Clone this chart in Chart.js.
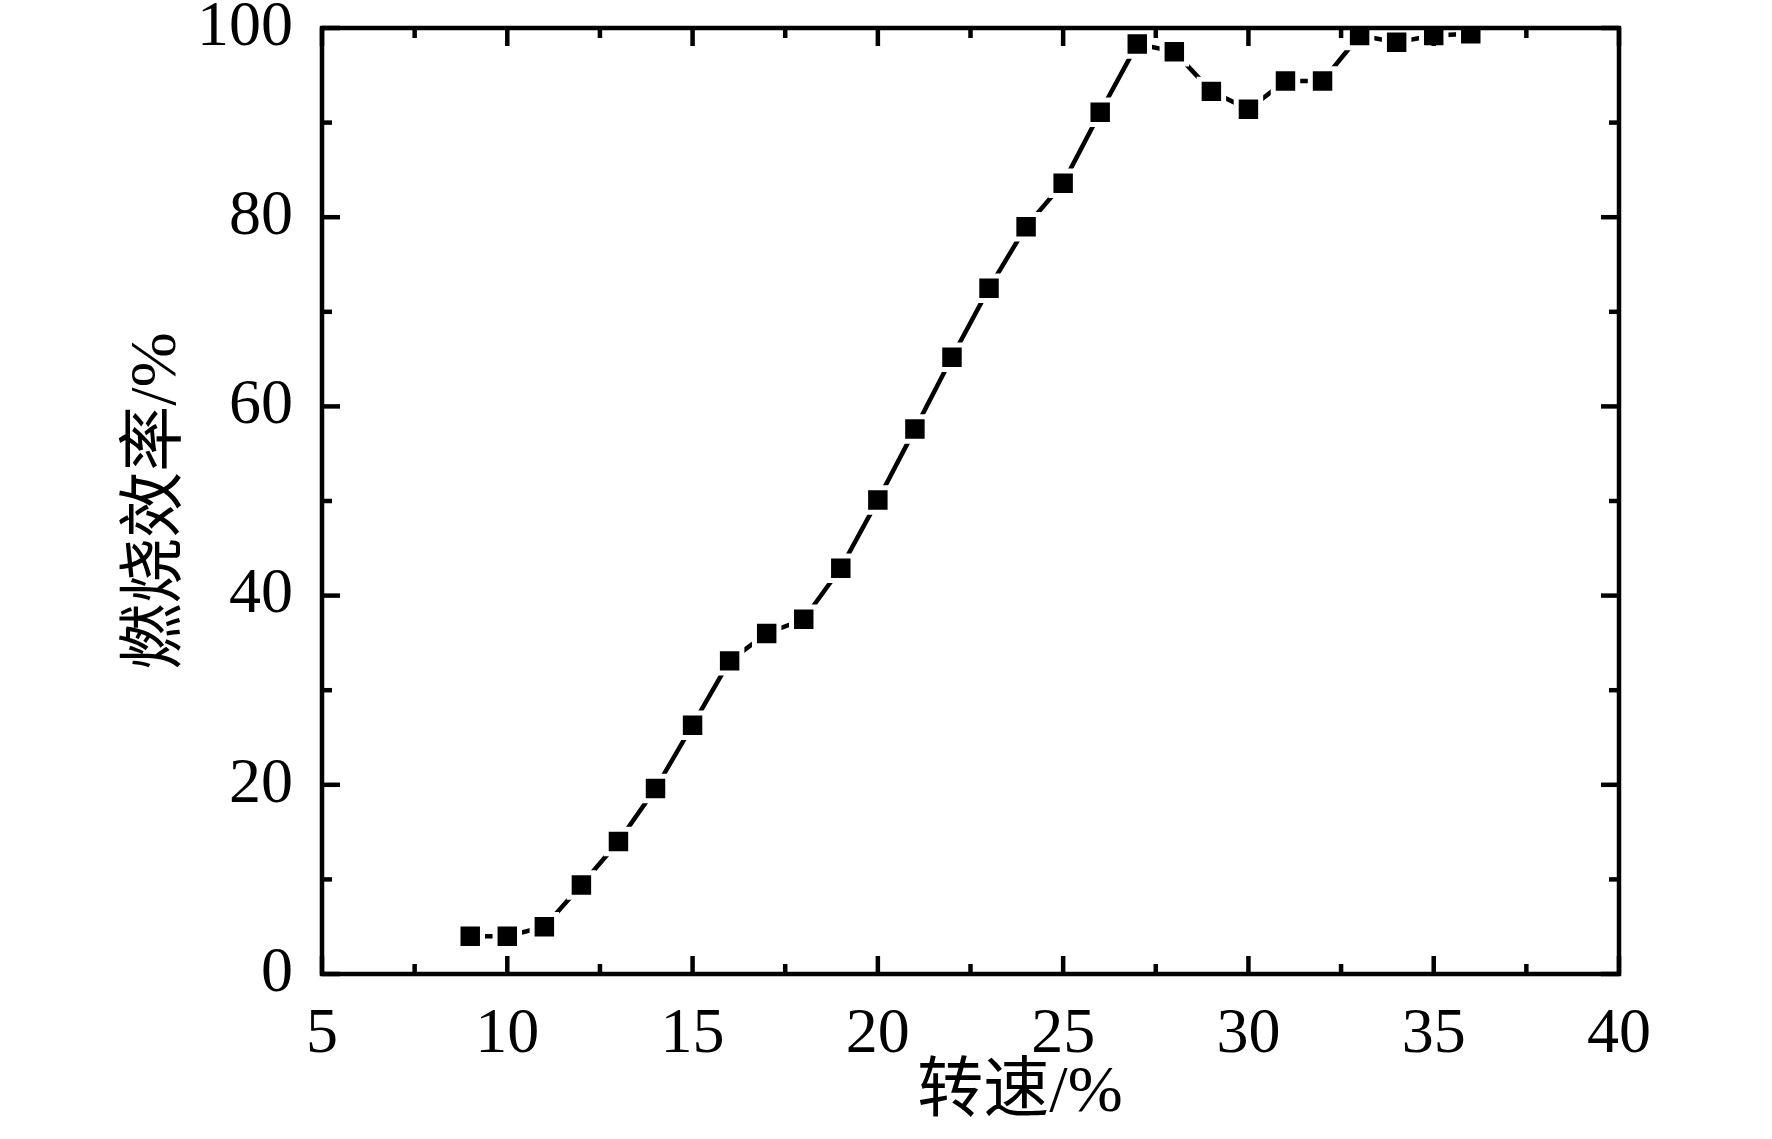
<!DOCTYPE html>
<html>
<head>
<meta charset="utf-8">
<script src="https://cdn.jsdelivr.net/npm/chart.js@4/dist/chart.umd.min.js"></script>
<style>
  html, body { margin: 0; padding: 0; background: #fff; }
  #wrap { width: 1772px; height: 1139px; }
</style>
</head>
<body>
<div id="wrap"><canvas id="effChart"></canvas></div>
<script>
// 转速 (%) 与 燃烧效率 (%)
const speeds = [9, 10, 11, 12, 13, 14, 15, 16, 17, 18, 19, 20, 21, 22,
                23, 24, 25, 26, 27, 28, 29, 30, 31, 32, 33, 34, 35, 36];
const efficiency = [4.0, 4.0, 5.0, 9.4, 14.0, 19.6, 26.3, 33.1, 36.0, 37.5, 42.9, 50.1, 57.6, 65.2,
                    72.5, 79.0, 83.6, 91.1, 98.3, 97.5, 93.3, 91.4, 94.4, 94.4, 99.2, 98.5, 99.2, 99.4];

const xMajorTicks = [5, 10, 15, 20, 25, 30, 35, 40];
const xMinorTicks = [7.5, 12.5, 17.5, 22.5, 27.5, 32.5, 37.5];
const yMajorTicks = [0, 20, 40, 60, 80, 100];
const yMinorTicks = [10, 30, 50, 70, 90];

const xTitle = '      转速/%';
const yTitle = '燃烧效率/%';

const serif = "'Liberation Serif', 'Times New Roman', 'Noto Sans CJK SC', serif";

// inward ticks on all four sides + the box, drawn on top of the data
const frameAndTicks = {
    id: 'frameAndTicks',
    afterDatasetsDraw(chart) {
        const ctx = chart.ctx;
        const a = chart.chartArea;
        const x = chart.scales.x;
        const y = chart.scales.y;
        ctx.save();
        ctx.strokeStyle = '#000';
        ctx.lineWidth = 4.5;
        ctx.lineCap = 'butt';
        const seg = (x1, y1, x2, y2) => {
            ctx.beginPath();
            ctx.moveTo(x1, y1);
            ctx.lineTo(x2, y2);
            ctx.stroke();
        };
        const xt = (vals, len) => vals.forEach(v => {
            const px = x.getPixelForValue(v);
            seg(px, a.bottom, px, a.bottom - len);
            seg(px, a.top, px, a.top + len);
        });
        const yt = (vals, len) => vals.forEach(v => {
            const py = y.getPixelForValue(v);
            seg(a.left, py, a.left + len, py);
            seg(a.right, py, a.right - len, py);
        });
        xt(xMajorTicks, 18);
        xt(xMinorTicks, 10);
        yt(yMajorTicks, 18);
        yt(yMinorTicks, 10);
        ctx.lineJoin = 'miter';
        ctx.strokeRect(a.left, a.top, a.right - a.left, a.bottom - a.top);
        ctx.restore();
    }
};

const data = {
    datasets: [{
        data: speeds.map((s, i) => ({x: s, y: efficiency[i]})),
        borderColor: '#000',
        borderWidth: 4.5,
        tension: 0,
        pointStyle: 'rect',
        pointRadius: 17.3,
        pointHoverRadius: 17.3,
        pointBackgroundColor: '#000',
        pointBorderColor: '#fff',
        pointBorderWidth: 5,
        fill: false
    }]
};

const config = {
    type: 'line',
    data: data,
    plugins: [frameAndTicks],
    options: {
        responsive: true,
        maintainAspectRatio: false,
        animation: false,
        layout: {
            padding: {top: 28, right: 153, left: 0, bottom: 0}
        },
        plugins: {
            legend: { display: false },
            tooltip: { enabled: false }
        },
        scales: {
            x: {
                type: 'linear',
                min: 5,
                max: 40,
                grid: { display: false, drawTicks: false },
                border: { display: false },
                ticks: {
                    stepSize: 5,
                    padding: 23,
                    color: '#000',
                    font: { family: serif, size: 64 }
                },
                title: {
                    display: true,
                    text: xTitle,
                    color: '#000',
                    font: { family: serif, size: 66 },
                    padding: { top: 0, bottom: 6 }
                },
                afterFit(scale) {
                    scale.height = 165;
                    scale.paddingLeft = 0;
                    scale.paddingRight = 0;
                }
            },
            y: {
                min: 0,
                max: 100,
                grid: { display: false, drawTicks: false },
                border: { display: false },
                ticks: {
                    stepSize: 20,
                    padding: 29,
                    color: '#000',
                    font: { family: serif, size: 64 }
                },
                title: {
                    display: true,
                    text: yTitle,
                    color: '#000',
                    font: { family: serif, size: 66 },
                    padding: { top: 118, bottom: 0 }
                },
                afterFit(scale) {
                    scale.width = 322;
                    scale.paddingTop = 0;
                    scale.paddingBottom = 0;
                }
            }
        }
    }
};

const effChart = new Chart(
    document.getElementById('effChart'),
    config
);
</script>
</body>
</html>
